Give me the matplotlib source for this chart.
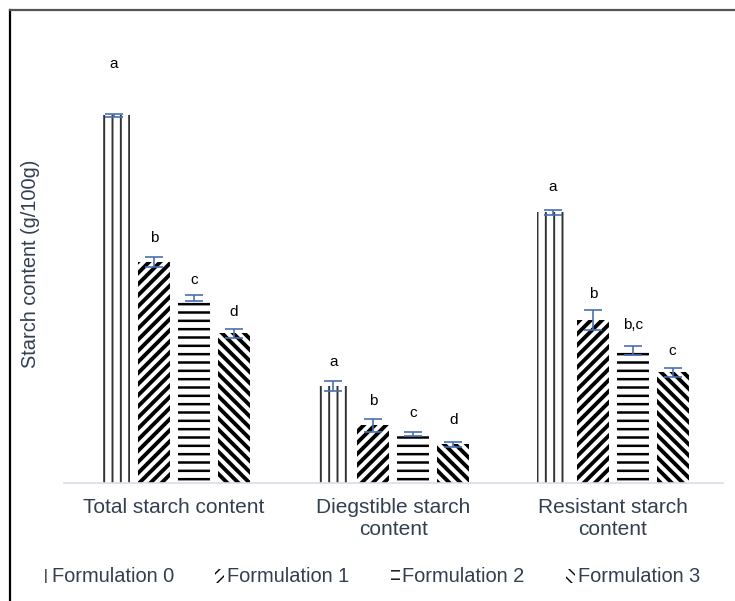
import numpy as np
import matplotlib
matplotlib.use('Agg')
import matplotlib.pyplot as plt
from matplotlib.lines import Line2D

plt.rcParams['font.family'] = ['Liberation Sans', 'DejaVu Sans']

categories = ["Total starch content", "Diegstible starch\ncontent", "Resistant starch\ncontent"]
series_names = ["Formulation 0", "Formulation 1", "Formulation 2", "Formulation 3"]
# starch content (g/100g), one list per formulation: total, digestible, resistant
f0 = [73.6, 19.4, 54.2]
f1 = [44.2, 11.6, 32.6]
f2 = [37.0, 9.8, 26.6]
f3 = [30.0, 7.8, 22.2]
f0_err = [0.3, 1.0, 0.5]
f1_err = [1.0, 1.3, 2.0]
f2_err = [0.6, 0.4, 0.9]
f3_err = [0.9, 0.5, 0.9]
f0_letters = ["a", "a", "a"]
f1_letters = ["b", "b", "b"]
f2_letters = ["c", "c", "b,c"]
f3_letters = ["d", "d", "c"]

values = [f0, f1, f2, f3]
errors = [f0_err, f1_err, f2_err, f3_err]
letters = [f0_letters, f1_letters, f2_letters, f3_letters]

hatches = ['||', '///', '--', '\\\\\\']
hatch_lw = [1.4, 2.8, 1.8, 2.8]
hatch_col = ['#333333', 'black', 'black', 'black']
# vertical offsets (points) of the significance letters
letter_off = [[32, 12, 13], [12, 12, 14], [8, 10, 13], [10, 12, 10]]

text_col = '#333f50'
err_col = '#4a6fb0'

fig = plt.figure(figsize=(7.35, 6.01), dpi=100)
ax = fig.add_axes([64 / 735, 118 / 601, 658.5 / 735, 443 / 601])

x = np.arange(len(categories))
width = 0.146
step = 0.182
for i in range(4):
    pos = x + (i - 1.5) * step
    with plt.rc_context({'hatch.linewidth': hatch_lw[i]}):
        bars = ax.bar(pos, values[i], width, color='white', edgecolor=hatch_col[i],
                      hatch=hatches[i], linewidth=0, label=series_names[i])
    for b in bars:
        if hasattr(b, 'set_hatch_linewidth'):
            b.set_hatch_linewidth(hatch_lw[i])
    ax.errorbar(pos, values[i], yerr=errors[i], fmt='none', ecolor=err_col,
                elinewidth=1.2, capsize=6.5, capthick=1.2)
    for j in range(len(categories)):
        ax.annotate(letters[i][j], (pos[j], values[i][j]),
                    xytext=(0, letter_off[i][j]), textcoords='offset points',
                    ha='center', va='bottom', fontsize=11, color='black')

ax.set_xlim(-0.5, 2.5)
ax.set_ylim(0, 88.6)
ax.set_xticks(x)
ax.set_xticklabels(categories, fontsize=15, color=text_col, linespacing=1.2)
ax.tick_params(axis='x', length=0, pad=11)
ax.set_yticks([])
for s in ['top', 'right', 'left']:
    ax.spines[s].set_visible(False)
ax.spines['bottom'].set_color('#d9dde6')
ax.spines['bottom'].set_linewidth(1.2)
ax.set_ylabel("Starch content (g/100g)", fontsize=14.4, color=text_col)
ax.yaxis.set_label_coords(-0.036, 0.494)

leg = fig.legend(loc='center', bbox_to_anchor=(370 / 735, 1 - 577 / 601), ncol=4,
                 frameon=False, fontsize=14.4, handlelength=0.45, handleheight=0.7,
                 handletextpad=0.15, columnspacing=2.05, labelcolor=text_col)

# outer chart frame (left and top edges)
fig.add_artist(Line2D([9.5 / 735, 9.5 / 735], [0, 1 - 9.5 / 601], transform=fig.transFigure,
                      color='black', linewidth=1.6))
fig.add_artist(Line2D([9.5 / 735, 1], [1 - 9.5 / 601, 1 - 9.5 / 601], transform=fig.transFigure,
                      color='#555555', linewidth=1.6))

fig.savefig('out.png', dpi=100)
